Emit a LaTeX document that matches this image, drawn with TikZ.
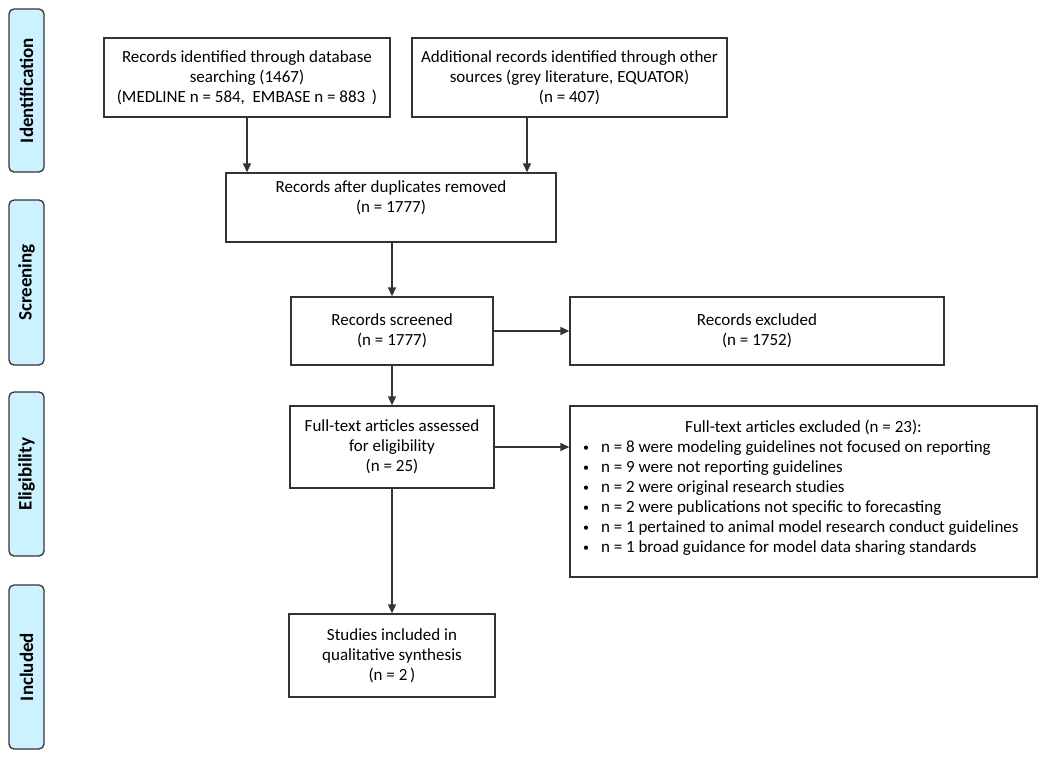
\documentclass[tikz,border=0pt]{standalone}
\usepackage{fontspec}
\setmainfont{Carlito}
\usetikzlibrary{arrows.meta}
\definecolor{lineg}{HTML}{333333}
\definecolor{sidefill}{HTML}{CCF2FF}
\newcommand\blt{\makebox[18pt][l]{\raisebox{1pt}{\fontsize{12}{20}\selectfont\textbullet}}}
\begin{document}
\begin{tikzpicture}[x=1pt,y=-1pt,
  every node/.style={font=\fontsize{17}{20}\selectfont},
  box/.style={draw=lineg, line width=1.3pt, align=center, inner sep=3pt},
  side/.style={draw=lineg, line width=1.3pt, fill=sidefill, rounded corners=5pt,
     rotate=90, minimum height=35pt, inner sep=0pt,
     font=\fontsize{19}{20}\selectfont\bfseries},
  arr/.style={draw=lineg, line width=1.3pt, -{Triangle[length=9pt,width=8pt]}}]
\useasboundingbox (0,0) rectangle (1050,758);
% side labels
\node[side, minimum width=163pt] (sid) at (26.5,90.5) {Identification};
\node[side, minimum width=165pt] (ssc) at (26.5,282.5) {Screening};
\node[side, minimum width=164pt] (sel) at (26.5,474) {Eligibility};
\node[side, minimum width=164pt] (sin) at (26.5,667) {Included};
% boxes
\node[box, minimum width=286pt, minimum height=79pt] (b1) at (247,77.5)
  {Records identified through database\\ searching (1467)\\ (MEDLINE n = 584,\ \ EMBASE n = 883\ \,)};
\node[box, minimum width=315pt, minimum height=79pt] (b2) at (569.5,77.5)
  {Additional records identified through other\\ sources (grey literature, EQUATOR)\\ (n = 407)};
\node[box, minimum width=330pt, minimum height=69pt] (b3) at (391,207.5)
  {Records after duplicates removed\\ (n = 1777)\\[1pt]};
\node[box, minimum width=202pt, minimum height=68pt] (b4) at (392,331)
  {Records screened\\ (n = 1777)};
\node[box, minimum width=374pt, minimum height=68pt] (exs) at (757,331)
  {Records excluded\\ (n = 1752)};
\node[box, minimum width=204pt, minimum height=82pt] (b5) at (392,447)
  {Full-text articles assessed\\ for eligibility\\ (n = 25)};
\node[box, minimum width=467pt, minimum height=171pt, inner sep=0pt] (exl) at (803.5,491.5)
  {\begin{minipage}{441pt}\fontsize{17}{20}\selectfont
   \centering Full-text articles excluded (n = 23):\par
   \raggedright\setlength{\parindent}{0pt}%
   \blt n = 8 were modeling guidelines not focused on reporting\\
   \blt n = 9 were not reporting guidelines\\
   \blt n = 2 were original research studies\\
   \blt n = 2 were publications not specific to forecasting\\
   \blt n = 1 pertained to animal model research conduct guidelines\\
   \blt n = 1 broad guidance for model data sharing standards\par
   \vspace{8pt}
   \end{minipage}};
\node[box, minimum width=206pt, minimum height=83pt] (b6) at (392,655.5)
  {Studies included in\\ qualitative synthesis\\ (n = 2\,)};
% connectors
\coordinate (c2) at (527,0);
\draw[arr] (b1.south) -- (b1.south |- b3.north);
\draw[arr] (b2.south -| c2) -- (b3.north -| c2);
\draw[arr] (b3.south -| b4.north) -- (b4.north);
\draw[arr] (b4.east) -- (exs.west);
\draw[arr] (b4.south) -- (b5.north);
\draw[arr] (b5.east) -- (b5.east -| exl.west);
\draw[arr] (b5.south) -- (b6.north);
\end{tikzpicture}
\end{document}
